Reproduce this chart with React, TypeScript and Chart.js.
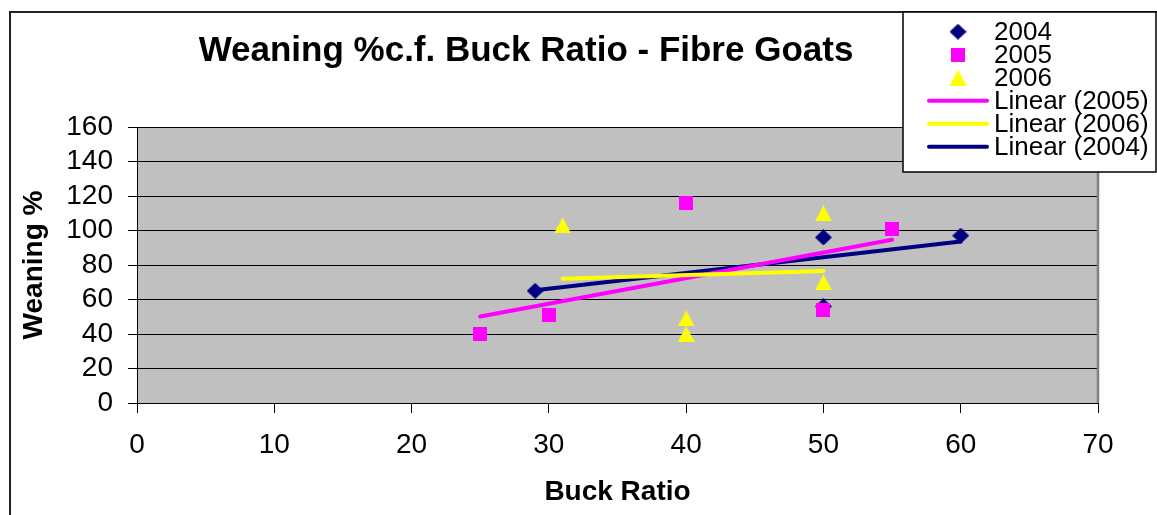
import React, { useEffect, useRef } from 'react';
import { Chart, registerables } from 'chart.js';

Chart.register(...registerables);

// ---- text ----
const chartTitle = 'Weaning %c.f. Buck Ratio - Fibre Goats';
const xAxisTitle = 'Buck Ratio';
const yAxisTitle = 'Weaning %';

// ---- tick labels ----
const xTickValues = [0, 10, 20, 30, 40, 50, 60, 70];
const yTickValues = [0, 20, 40, 60, 80, 100, 120, 140, 160];

// ---- series ----
const buckRatio2004 = [29, 50, 50, 60];
const weaning2004 = [65, 96, 56, 97];
const buckRatio2005 = [25, 30, 40, 50, 55];
const weaning2005 = [40, 51, 116, 54, 101];
const buckRatio2006 = [31, 40, 40, 50, 50];
const weaning2006 = [103, 49, 40, 110, 70];

// ---- linear trend lines (end values) ----
const trendX2005 = [25, 55];
const trendY2005 = [50.1, 94.6];
const trendX2006 = [31, 50];
const trendY2006 = [72.1, 76.5];
const trendX2004 = [29, 60];
const trendY2004 = [65.3, 93.6];

const NAVY = '#000080';
const MAGENTA = '#FF00FF';
const YELLOW = '#FFFF00';
const FONT = "'Liberation Sans', Arial, Helvetica, sans-serif";

const zip = (xs: number[], ys: number[]) => xs.map((x, i) => ({ x, y: ys[i] }));

function makeMarker(kind: 'diamond' | 'square' | 'triangle', color: string): HTMLCanvasElement {
  const c = document.createElement('canvas');
  const w = kind === 'square' ? 14 : 17;
  const h = kind === 'square' ? 14 : 16;
  c.width = w;
  c.height = h;
  const g = c.getContext('2d')!;
  g.fillStyle = color;
  g.beginPath();
  if (kind === 'diamond') {
    g.moveTo(w / 2, 0);
    g.lineTo(w, h / 2);
    g.lineTo(w / 2, h);
    g.lineTo(0, h / 2);
  } else if (kind === 'square') {
    g.rect(0, 0, w, h);
  } else {
    g.moveTo(w / 2, 0);
    g.lineTo(w, h);
    g.lineTo(0, h);
  }
  g.closePath();
  g.fill();
  return c;
}

export default function App() {
  const ref = useRef<HTMLCanvasElement>(null);

  useEffect(() => {
    const diamond = makeMarker('diamond', NAVY);
    const square = makeMarker('square', MAGENTA);
    const triangle = makeMarker('triangle', YELLOW);

    const markerDs = (label: string, xs: number[], ys: number[], style: HTMLCanvasElement, color: string, order: number) => ({
      label,
      data: zip(xs, ys),
      pointStyle: style,
      pointRadius: 8,
      pointHoverRadius: 8,
      backgroundColor: color,
      borderColor: color,
      showLine: false,
      order,
    });
    const lineDs = (label: string, xs: number[], ys: number[], color: string, order: number) => ({
      label,
      data: zip(xs, ys),
      showLine: true,
      pointRadius: 0,
      pointHoverRadius: 0,
      borderColor: color,
      backgroundColor: color,
      borderWidth: 4,
      borderCapStyle: 'round' as const,
      fill: false,
      order,
    });

    const bgPlugin = {
      id: 'plotBg',
      beforeDraw(chart: any) {
        const { ctx, chartArea: a } = chart;
        ctx.save();
        ctx.fillStyle = '#FFFFFF';
        ctx.fillRect(0, 0, chart.width, chart.height);
        ctx.fillStyle = '#C0C0C0';
        ctx.fillRect(a.left, a.top, a.right - a.left, a.bottom - a.top);
        ctx.restore();
      },
      beforeDatasetsDraw(chart: any) {
        const { ctx, chartArea: a } = chart;
        ctx.save();
        ctx.strokeStyle = '#808080';
        ctx.lineWidth = 2.5;
        ctx.beginPath();
        ctx.moveTo(a.right, a.top);
        ctx.lineTo(a.right, a.bottom);
        ctx.stroke();
        ctx.restore();
      },
    };

    const overlayPlugin = {
      id: 'overlay',
      afterDraw(chart: any) {
        const { ctx } = chart;
        ctx.save();
        // outer chart frame
        ctx.strokeStyle = '#222222';
        ctx.lineWidth = 2;
        ctx.strokeRect(10, 12, chart.width + 20, chart.height + 20);

        // title
        ctx.fillStyle = '#000';
        ctx.font = `bold 35px ${FONT}`;
        ctx.textAlign = 'center';
        ctx.textBaseline = 'alphabetic';
        ctx.fillText(chartTitle, 526, 61);

        // legend box
        const lx = 903, ly = 12, lr = 1156, lb = 172;
        ctx.fillStyle = '#FFFFFF';
        ctx.fillRect(lx, ly, lr - lx, lb - ly);
        ctx.strokeStyle = '#000';
        ctx.lineWidth = 1.5;
        ctx.strokeRect(lx, ly, lr - lx, lb - ly);

        const datasets = chart.data.datasets;
        ctx.font = `26px ${FONT}`;
        ctx.textAlign = 'left';
        ctx.textBaseline = 'middle';
        datasets.forEach((ds: any, i: number) => {
          const cy = 31.7 + 23 * i;
          if (ds.showLine) {
            ctx.strokeStyle = ds.borderColor;
            ctx.lineWidth = 4;
            ctx.lineCap = 'round';
            ctx.beginPath();
            ctx.moveTo(929, cy);
            ctx.lineTo(987, cy);
            ctx.stroke();
          } else {
            const img = ds.pointStyle as HTMLCanvasElement;
            ctx.drawImage(img, 958 - img.width / 2, cy - img.height / 2);
          }
          ctx.fillStyle = '#000';
          ctx.fillText(ds.label, 994, cy + 1);
        });
        ctx.restore();
      },
    };

    const chart = new Chart(ref.current!, {
      type: 'scatter',
      data: {
        datasets: [
          markerDs('2004', buckRatio2004, weaning2004, diamond, NAVY, 2),
          markerDs('2005', buckRatio2005, weaning2005, square, MAGENTA, 1),
          markerDs('2006', buckRatio2006, weaning2006, triangle, YELLOW, 0),
          lineDs('Linear (2005)', trendX2005, trendY2005, MAGENTA, 4),
          lineDs('Linear (2006)', trendX2006, trendY2006, YELLOW, 3),
          lineDs('Linear (2004)', trendX2004, trendY2004, NAVY, 5),
        ] as any,
      },
      options: {
        responsive: false,
        animation: false,
        devicePixelRatio: 1,
        events: [],
        layout: { padding: { left: 0, top: 127, right: 59, bottom: 0 } },
        plugins: {
          legend: { display: false },
          title: { display: false },
          tooltip: { enabled: false },
        },
        scales: {
          x: {
            type: 'linear',
            min: 0,
            max: 70,
            afterBuildTicks: (s: any) => {
              s.ticks = xTickValues.map((v) => ({ value: v }));
            },
            afterFit: (s: any) => {
              s.height = 112;
            },
            ticks: {
              autoSkip: false,
              maxRotation: 0,
              padding: 15,
              color: '#000',
              font: { family: FONT, size: 28 },
              callback: (v: any) => String(v),
            },
            grid: {
              drawOnChartArea: false,
              drawTicks: true,
              tickLength: 10,
              color: '#000',
              tickColor: '#000',
              lineWidth: 1,
            },
            border: { display: true, color: '#000', width: 1 },
            title: {
              display: true,
              text: xAxisTitle,
              color: '#000',
              font: { family: FONT, size: 28, weight: 'bold' },
              padding: { top: 0, bottom: 6 },
            },
          },
          y: {
            type: 'linear',
            min: 0,
            max: 160,
            afterBuildTicks: (s: any) => {
              s.ticks = yTickValues.map((v) => ({ value: v }));
            },
            afterFit: (s: any) => {
              s.width = 137;
            },
            ticks: {
              autoSkip: false,
              padding: 15,
              color: '#000',
              font: { family: FONT, size: 28 },
              callback: (v: any) => String(v),
            },
            grid: {
              drawOnChartArea: true,
              drawTicks: true,
              tickLength: 9,
              color: '#000',
              tickColor: '#000',
              lineWidth: 1,
            },
            border: { display: true, color: '#000', width: 1 },
            title: {
              display: true,
              text: yAxisTitle,
              color: '#000',
              font: { family: FONT, size: 28, weight: 'bold' },
              padding: { top: 17, bottom: 0 },
            },
          },
        },
      } as any,
      plugins: [bgPlugin, overlayPlugin],
    });

    return () => chart.destroy();
  }, []);

  return (
    <div style={{ position: 'absolute', left: 0, top: 0, width: 1157, height: 515, background: '#fff' }}>
      <canvas ref={ref} width={1157} height={515} style={{ display: 'block', width: 1157, height: 515 }} />
    </div>
  );
}
